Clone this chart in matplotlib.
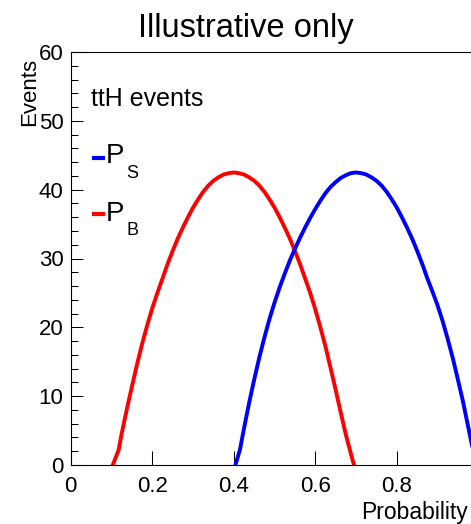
import matplotlib
matplotlib.use("Agg")
import matplotlib.pyplot as plt
from matplotlib.lines import Line2D
from matplotlib.ticker import MultipleLocator

plt.rcParams['font.family'] = ['Liberation Sans', 'DejaVu Sans']

# values
prob_b = [0.103, 0.1175, 0.125, 0.1375, 0.150, 0.1625, 0.175, 0.1875, 0.200, 0.2125,
          0.225, 0.2375, 0.250, 0.2625, 0.275, 0.2875, 0.300, 0.3125, 0.325, 0.3375,
          0.350, 0.3625, 0.375, 0.3875, 0.400, 0.4125, 0.425, 0.4375, 0.450, 0.4625,
          0.475, 0.4875, 0.500, 0.5125, 0.525, 0.5375, 0.550, 0.5625, 0.575, 0.5875,
          0.600, 0.6125, 0.625, 0.6375, 0.650, 0.6625, 0.675, 0.6875, 0.695]
events_b = [0.0, 2.2, 4.6, 8.1, 11.4, 14.6, 17.6, 20.3, 22.8, 25.0,
            27.1, 29.2, 31.1, 32.9, 34.5, 36.0, 37.4, 38.6, 39.7, 40.6,
            41.3, 41.8, 42.2, 42.4, 42.5, 42.4, 42.2, 41.8, 41.3, 40.6,
            39.7, 38.6, 37.4, 36.0, 34.5, 32.9, 31.1, 29.2, 27.1, 25.0,
            22.6, 20.0, 17.2, 14.1, 10.9, 7.6, 4.4, 1.6, 0.0]

prob_s = [0.404, 0.415, 0.425, 0.4375, 0.450, 0.4625, 0.475, 0.4875, 0.500, 0.5125,
          0.525, 0.5375, 0.550, 0.5625, 0.575, 0.5875, 0.600, 0.6125, 0.625, 0.6375,
          0.650, 0.6625, 0.675, 0.6875, 0.700, 0.7125, 0.725, 0.7375, 0.750, 0.7625,
          0.775, 0.7875, 0.800, 0.8125, 0.825, 0.8375, 0.850, 0.8625, 0.875, 0.8875,
          0.900, 0.9125, 0.925, 0.9375, 0.950, 0.9625, 0.975, 0.9875, 1.000]
events_s = [0.0, 2.2, 5.3, 9.0, 12.4, 15.6, 18.5, 21.2, 23.6, 25.8,
            27.8, 29.7, 31.4, 33.0, 34.5, 35.9, 37.2, 38.4, 39.5, 40.4,
            41.1, 41.7, 42.1, 42.4, 42.5, 42.4, 42.2, 41.8, 41.3, 40.6,
            39.7, 38.6, 37.4, 36.0, 34.5, 32.9, 31.1, 29.2, 27.1, 25.2,
            23.2, 20.9, 18.3, 15.5, 12.4, 9.2, 5.6, 2.0, 0.0]

W, H = 471, 524
fig = plt.figure(figsize=(W / 100, H / 100), dpi=100)
# the frame runs past the right edge of the picture, as in the reference
ax = fig.add_axes([70.8 / W, 1 - 465 / H, 407.5 / W, (465 - 52) / H])

ax.plot(prob_b, events_b, color='#ff0000', lw=2.8, solid_joinstyle='round')
ax.plot(prob_s, events_s, color='#0000ff', lw=2.8, solid_joinstyle='round')

ax.set_xlim(0, 1)
ax.set_ylim(0, 60)
ax.yaxis.set_major_locator(MultipleLocator(10))
ax.yaxis.set_minor_locator(MultipleLocator(2))
ax.set_xticks([0, 0.2, 0.4, 0.6, 0.8])
ax.set_xticklabels(['0', '0.2', '0.4', '0.6', '0.8'])

ax.tick_params(axis='y', which='major', direction='in', length=8.6, width=0.75,
               labelsize=16, pad=5.2)
ax.tick_params(axis='y', which='minor', direction='in', length=4.7, width=0.75)
ax.tick_params(axis='x', which='major', direction='in', length=9.9, width=0.75,
               labelsize=16, pad=8)
for s in ax.spines.values():
    s.set_linewidth(0.8)

def fx(px):
    return px / W

def fy(py):
    return 1 - py / H

fig.text(fx(246), fy(37.5), 'Illustrative only', fontsize=23.5,
         ha='center', va='baseline')
fig.text(fx(35), fy(58), 'Events', fontsize=16, rotation=90,
         rotation_mode='anchor', ha='right', va='baseline')
fig.text(fx(468), fy(518.5), 'Probability', fontsize=16.5,
         ha='right', va='baseline')
fig.text(fx(91), fy(105.5), 'ttH events', fontsize=18, ha='left', va='baseline')

# legend entries
for yc, col, sub, ybase, ysub in [(157.5, '#0000ff', 'S', 163.3, 178.3),
                                  (214.3, '#ff0000', 'B', 220.5, 235)]:
    fig.add_artist(Line2D([fx(92.3), fx(105)], [fy(yc), fy(yc)], color=col, lw=3,
                          solid_capstyle='butt'))
    fig.text(fx(105.5), fy(ybase), 'P', fontsize=20, ha='left', va='baseline')
    fig.text(fx(126), fy(ysub), sub, fontsize=13, ha='left', va='baseline')

fig.savefig('out.png', dpi=100)
